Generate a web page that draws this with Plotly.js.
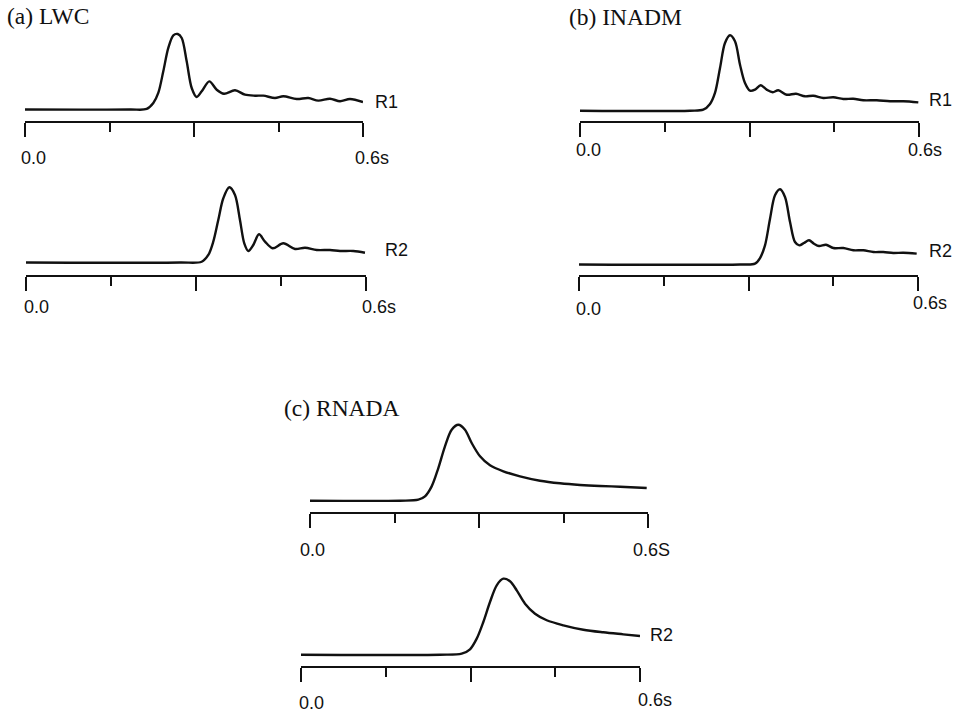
<!DOCTYPE html>
<html>
<head>
<meta charset="utf-8">
<script src="https://cdn.plot.ly/plotly-3.0.1.min.js"></script>
<style>html,body{margin:0;padding:0;background:#fff;}#chart{width:961px;height:713px;}</style>
</head>
<body>
<div id="chart"></div>
<script>
// ---- Data (time in s, normalized amplitude) ----
const timeA1 = [0, 0.1864, 0.2160, 0.2278, 0.2366, 0.2455, 0.2544, 0.2633, 0.2711, 0.2782, 0.2870, 0.2959, 0.3048, 0.3137, 0.3272, 0.3403, 0.3533, 0.3728, 0.3905, 0.4083, 0.4230, 0.4438, 0.4585, 0.4823, 0.5029, 0.5207, 0.5414, 0.5592, 0.5769, 0.6];
const ampA1  = [0, 0, 0.007, 0.086, 0.219, 0.506, 0.815, 0.983, 1.0, 0.947, 0.638, 0.285, 0.166, 0.241, 0.373, 0.262, 0.209, 0.254, 0.196, 0.183, 0.183, 0.152, 0.175, 0.139, 0.152, 0.117, 0.143, 0.109, 0.139, 0.099];

const timeA2 = [0, 0.2718, 0.3100, 0.3217, 0.3305, 0.3393, 0.3482, 0.3588, 0.3688, 0.3776, 0.3852, 0.3923, 0.4011, 0.4112, 0.4218, 0.4353, 0.4541, 0.4747, 0.4924, 0.5130, 0.5365, 0.5541, 0.5776, 0.5982];
const ampA2  = [0, 0, 0.01, 0.10, 0.277, 0.565, 0.854, 1.0, 0.898, 0.565, 0.255, 0.153, 0.233, 0.375, 0.277, 0.189, 0.255, 0.180, 0.197, 0.166, 0.166, 0.153, 0.153, 0.130];

const timeB1 = [0, 0.1947, 0.2182, 0.2301, 0.2389, 0.2478, 0.2566, 0.2655, 0.2743, 0.2832, 0.2920, 0.3009, 0.3097, 0.3198, 0.3304, 0.3412, 0.3510, 0.3658, 0.3823, 0.3982, 0.4129, 0.4306, 0.4483, 0.4660, 0.4837, 0.5014, 0.5251, 0.5487, 0.5722, 0.5988];
const ampB1  = [0, 0, 0.013, 0.089, 0.235, 0.566, 0.898, 1.0, 0.920, 0.610, 0.367, 0.265, 0.279, 0.337, 0.279, 0.244, 0.271, 0.212, 0.225, 0.191, 0.199, 0.168, 0.178, 0.155, 0.159, 0.138, 0.138, 0.125, 0.125, 0.111];

const timeB2 = [0, 0.2850, 0.3115, 0.3204, 0.3292, 0.3381, 0.3469, 0.3558, 0.3646, 0.3735, 0.3823, 0.3899, 0.3982, 0.4071, 0.4159, 0.4248, 0.4372, 0.4501, 0.4678, 0.4855, 0.5032, 0.5209, 0.5386, 0.5563, 0.5740, 0.5977];
const ampB2  = [0, 0, 0.011, 0.086, 0.255, 0.609, 0.920, 1.0, 0.898, 0.565, 0.299, 0.255, 0.286, 0.322, 0.277, 0.246, 0.263, 0.219, 0.219, 0.189, 0.189, 0.166, 0.166, 0.153, 0.157, 0.144];

const timeC1 = [0, 0.1598, 0.1923, 0.2041, 0.2160, 0.2278, 0.2396, 0.2515, 0.2633, 0.2751, 0.2870, 0.3018, 0.3195, 0.3432, 0.3728, 0.4083, 0.4438, 0.4793, 0.5148, 0.5503, 0.5977];
const ampC1  = [0, 0, 0.013, 0.058, 0.189, 0.430, 0.716, 0.934, 1.0, 0.934, 0.759, 0.584, 0.466, 0.387, 0.321, 0.263, 0.229, 0.207, 0.193, 0.184, 0.167];

const timeC2 = [0, 0.2460, 0.2844, 0.2991, 0.3110, 0.3227, 0.3345, 0.3464, 0.3581, 0.3699, 0.3818, 0.3965, 0.4142, 0.4349, 0.4643, 0.4997, 0.5350, 0.5704, 0.6];
const ampC2  = [0, 0, 0.013, 0.071, 0.211, 0.430, 0.693, 0.913, 1.0, 0.966, 0.847, 0.671, 0.539, 0.453, 0.387, 0.329, 0.295, 0.268, 0.246];

const majorTicks = [0, 0.3, 0.6];
const minorTicks = [0.15, 0.45];
const panelTitles = ['(a) LWC', '(b) INADM', '(c) RNADA'];
const receiverLabels = ['R1', 'R2', 'R1', 'R2', '', 'R2'];
const startLabels = ['0.0', '0.0', '0.0', '0.0', '0.0', '0.0'];
const endLabels = ['0.6s', '0.6s', '0.6s', '0.6s', '0.6S', '0.6s'];

// ---- Layout geometry (pixels) ----
const W = 961, H = 713;
const INK = '#111111';
const series = [
  {t: timeA1, a: ampA1}, {t: timeA2, a: ampA2},
  {t: timeB1, a: ampB1}, {t: timeB2, a: ampB2},
  {t: timeC1, a: ampC1}, {t: timeC2, a: ampC2}
];
const geom = [
  {left: 25,  right: 363, axisY: 121.7, baseY: 109.5, S: 75.5,
   rl: [373, 101.7], s0: [33, 158], s6: [371.5, 158]},
  {left: 26,  right: 366, axisY: 276,   baseY: 262.5, S: 75.2,
   rl: [383, 250],   s0: [36, 306.7], s6: [379, 307]},
  {left: 580, right: 919, axisY: 121.7, baseY: 110.7, S: 75.4,
   rl: [927, 100],   s0: [588.3, 150], s6: [925, 150]},
  {left: 579, right: 918, axisY: 276,   baseY: 264.5, S: 75.2,
   rl: [927, 251],   s0: [588.3, 309.3], s6: [929.7, 303.3]},
  {left: 310, right: 648, axisY: 513.3, baseY: 500.7, S: 76,
   rl: [658, 488],   s0: [312, 550], s6: [651, 550]},
  {left: 301, right: 640, axisY: 666.7, baseY: 654.7, S: 76,
   rl: [648.3, 635], s0: [311.7, 703.3], s6: [655, 700]}
];
const titlePos = [[5, 15.7], [567, 16.7], [282, 408]];

const traces = [];
const layout = {
  width: W, height: H,
  margin: {l: 0, r: 0, t: 0, b: 0},
  paper_bgcolor: '#ffffff', plot_bgcolor: 'rgba(0,0,0,0)',
  showlegend: false,
  annotations: []
};
const sans = {family: 'Liberation Sans, Arial, sans-serif', size: 18, color: INK};

geom.forEach((g, i) => {
  const n = i + 1;
  const xa = n === 1 ? 'xaxis' : 'xaxis' + n;
  const ya = n === 1 ? 'yaxis' : 'yaxis' + n;
  const xr = n === 1 ? 'x' : 'x' + n;
  const yr = n === 1 ? 'y' : 'y' + n;
  traces.push({
    type: 'scatter', mode: 'lines',
    x: series[i].t, y: series[i].a,
    xaxis: xr, yaxis: yr,
    line: {color: INK, width: 2.4, shape: 'spline', smoothing: 0.9},
    hoverinfo: 'skip'
  });
  const bottom = g.axisY - 1;
  const top = g.baseY - 1.1 * g.S;
  layout[xa] = {
    domain: [g.left / W, g.right / W], anchor: yr,
    range: [0, 0.6], fixedrange: true,
    showline: true, linewidth: 2, linecolor: INK,
    ticks: 'outside', tickmode: 'array', tickvals: majorTicks,
    ticklen: 14, tickwidth: 2, tickcolor: INK,
    showticklabels: false, showgrid: false, zeroline: false,
    minor: {tickmode: 'array', tickvals: minorTicks, ticks: 'outside', ticklen: 9, tickwidth: 2, tickcolor: INK, showgrid: false}
  };
  layout[ya] = {
    domain: [1 - bottom / H, 1 - top / H], anchor: xr,
    range: [-(bottom - g.baseY) / g.S, 1.1], fixedrange: true,
    visible: false
  };
  if (receiverLabels[i]) {
    layout.annotations.push({xref: 'paper', yref: 'paper', x: g.rl[0] / W, y: 1 - g.rl[1] / H,
      xanchor: 'left', yanchor: 'middle', text: receiverLabels[i], showarrow: false, font: sans});
  }
  layout.annotations.push({xref: 'paper', yref: 'paper', x: g.s0[0] / W, y: 1 - g.s0[1] / H,
    xanchor: 'center', yanchor: 'middle', text: startLabels[i], showarrow: false, font: sans});
  layout.annotations.push({xref: 'paper', yref: 'paper', x: g.s6[0] / W, y: 1 - g.s6[1] / H,
    xanchor: 'center', yanchor: 'middle', text: endLabels[i], showarrow: false, font: sans});
});

panelTitles.forEach((txt, k) => {
  layout.annotations.push({xref: 'paper', yref: 'paper', x: titlePos[k][0] / W, y: 1 - titlePos[k][1] / H,
    xanchor: 'left', yanchor: 'middle', text: txt, showarrow: false,
    font: {family: 'Liberation Serif, Times New Roman, serif', size: 23.5, color: INK}});
});

Plotly.newPlot('chart', traces, layout, {displayModeBar: false, staticPlot: true});
</script>
</body>
</html>
